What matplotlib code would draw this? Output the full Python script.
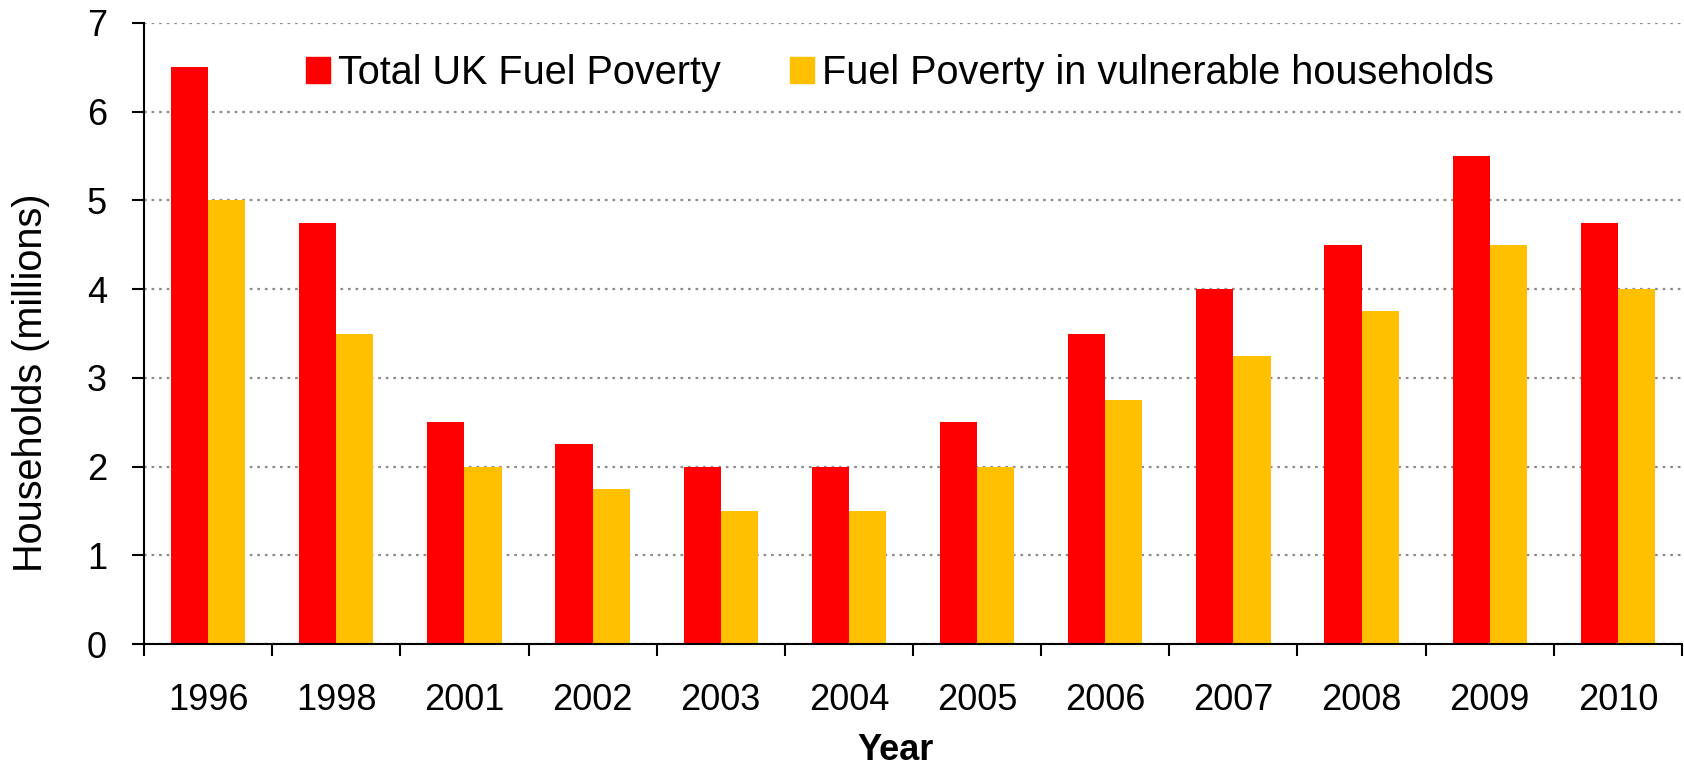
import matplotlib
matplotlib.use("Agg")
import matplotlib.pyplot as plt
import numpy as np
from matplotlib.patches import Patch

years = ["1996", "1998", "2001", "2002", "2003", "2004", "2005", "2006", "2007", "2008", "2009", "2010"]
total_uk = [6.5, 4.75, 2.5, 2.25, 2.0, 2.0, 2.5, 3.5, 4.0, 4.5, 5.5, 4.75]
vulnerable = [5.0, 3.5, 2.0, 1.75, 1.5, 1.5, 2.0, 2.75, 3.25, 3.75, 4.5, 4.0]
series_names = ["Total UK Fuel Poverty", "Fuel Poverty in vulnerable households"]
y_ticks = [0, 1, 2, 3, 4, 5, 6, 7]

RED = "#FF0000"
YELLOW = "#FFC000"
FS = 26
FS_LEG = 28.5
FS_YLAB = 28.5

plt.rcParams['font.family'] = ['Liberation Sans', 'DejaVu Sans']

W, H = 1684, 767
fig = plt.figure(figsize=(W / 100, H / 100), dpi=100)
ax = fig.add_axes([144 / W, 1 - 644 / H, 1538 / W, 621 / H])

x = np.arange(len(years))
bw = 0.29
ax.bar(x - bw / 2, total_uk, bw, color=RED, zorder=3)
ax.bar(x + bw / 2, vulnerable, bw, color=YELLOW, zorder=3)

ax.set_xlim(-0.5, len(years) - 0.5)
ax.set_ylim(0, 7)

# y axis
ax.set_yticks(y_ticks)
ax.set_yticklabels([str(v) for v in y_ticks])
ax.tick_params(axis='y', direction='out', length=8.6, width=1.5, pad=18, labelsize=FS)
ax.yaxis.grid(True, color='#8c8c8c', linestyle=(0, (1.2, 2.2)), linewidth=1.6, zorder=0)

# x axis: major ticks at category boundaries, labels at centres
ax.set_xticks(np.arange(-0.5, len(years), 1.0))
ax.set_xticklabels([])
ax.set_xticks(x, labels=years, minor=True)
ax.tick_params(axis='x', which='major', direction='out', length=8.6, width=1.5)
ax.tick_params(axis='x', which='minor', length=0, pad=28, labelsize=FS)

for s in ['top', 'right']:
    ax.spines[s].set_visible(False)
for s in ['left', 'bottom']:
    ax.spines[s].set_linewidth(1.5)
    ax.spines[s].set_zorder(4)

ax.set_ylabel("Households (millions)", fontsize=FS_YLAB, va='center')
ax.yaxis.set_label_coords((31 - 144) / 1538, (644 - 383) / 621)
ax.set_xlabel("Year", fontsize=FS, fontweight='bold', va='center')
ax.xaxis.set_label_coords((896 - 144) / 1538, (644 - 750) / 621)

# legends (two, placed independently)
leg1 = ax.legend(handles=[Patch(color=RED)], labels=[series_names[0]], loc='center left',
                 bbox_to_anchor=(306 / W, 1 - 73 / H), bbox_transform=fig.transFigure,
                 frameon=False, fontsize=FS_LEG, handlelength=0.6, handleheight=0.6,
                 handletextpad=0.2, borderpad=0, borderaxespad=0)
ax.add_artist(leg1)
leg2 = ax.legend(handles=[Patch(color=YELLOW)], labels=[series_names[1]], loc='center left',
                 bbox_to_anchor=(790 / W, 1 - 73 / H), bbox_transform=fig.transFigure,
                 frameon=False, fontsize=FS_LEG, handlelength=0.6, handleheight=0.6,
                 handletextpad=0.2, borderpad=0, borderaxespad=0)

fig.savefig("out.png", dpi=100)
